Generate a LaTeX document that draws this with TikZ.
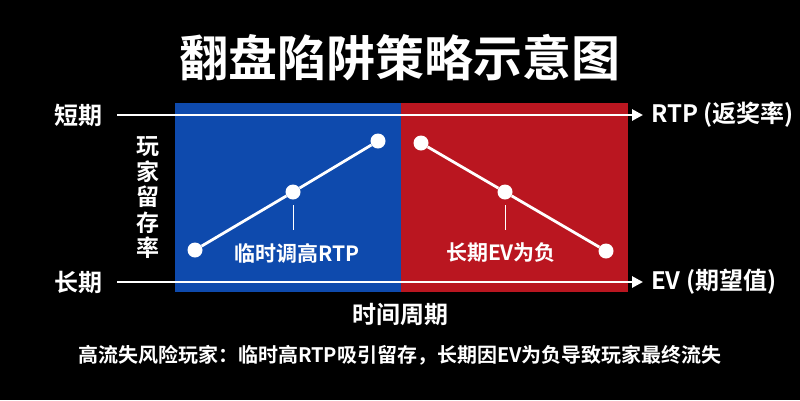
\documentclass[tikz,border=0pt]{standalone}
\usepackage{fontspec}
\setmainfont{Noto Sans CJK SC Bold}
\usetikzlibrary{arrows.meta}
\definecolor{panelblue}{RGB}{14,74,173}
\definecolor{panelred}{RGB}{186,22,32}
\tikzset{
  axisline/.style={draw=white,line width=2.8pt,-{Triangle[length=11pt,width=11pt]}},
  dataline/.style={draw=white,line width=2.8pt},
  dot/.style={circle,fill=white,inner sep=0pt,minimum size=15pt},
  tickline/.style={draw=white,line width=1pt},
  lbl/.style={text=white,font=\fontsize{24}{27}\selectfont,inner sep=0pt},
  inlbl/.style={text=white,font=\fontsize{21}{24}\selectfont,inner sep=0pt},
}
\begin{document}
\begin{tikzpicture}[x=1pt,y=-1pt]
\fill[black] (0,0) rectangle (800,400);
\useasboundingbox (0,0) rectangle (800,400);
% panels
\fill[panelblue] (175,103) rectangle (401,292);
\fill[panelred] (401,103) rectangle (628,292);
% title
\node[text=white,font=\fontsize{49}{54}\selectfont,inner sep=0pt] (title) at (400,58) {翻盘陷阱策略示意图};
% axes
\coordinate (tS) at (117,115);
\coordinate (tE) at (643,115);
\coordinate (bS) at (117,282);
\coordinate (bE) at (643,282);
\draw[axisline] (tS) -- (tE);
\draw[axisline] (bS) -- (bE);
\node[lbl] (short) at (78,115) {短期};
\node[lbl] (long) at (78,282) {长期};
\node[lbl,anchor=west] (rtp) at (651,115) {RTP (返奖率)};
\node[lbl,anchor=west] (ev) at (651,282) {EV (期望值)};
% vertical label
\node[lbl,align=center,font=\fontsize{23}{25.5}\selectfont] (ret) at (148,198) {玩\\家\\留\\存\\率};
% blue data
\node[dot] (a1) at (195,250) {};
\node[dot] (a2) at (293,192) {};
\node[dot] (a3) at (378,141) {};
\draw[dataline] (a1) -- (a2) -- (a3);
\coordinate (at1) at (293,205);
\coordinate (at2) at (293,230);
\draw[tickline] (at1) -- (at2);
\node[inlbl] (alab) at (297,253) {临时调高RTP};
% red data
\node[dot] (b1) at (421,143) {};
\node[dot] (b2) at (505,192) {};
\node[dot] (b3) at (606,251) {};
\draw[dataline] (b1) -- (b2) -- (b3);
\coordinate (bt1) at (505,205);
\coordinate (bt2) at (505,230);
\draw[tickline] (bt1) -- (bt2);
\node[inlbl] (blab) at (501,253) {长期EV为负};
% x label
\node[lbl] (time) at (400,315) {时间周期};
% caption
\node[text=white,font=\fontsize{20}{24}\selectfont,inner sep=0pt] (cap) at (400,355) {高流失风险玩家：临时高RTP吸引留存，长期因EV为负导致玩家最终流失};
\end{tikzpicture}
\end{document}
